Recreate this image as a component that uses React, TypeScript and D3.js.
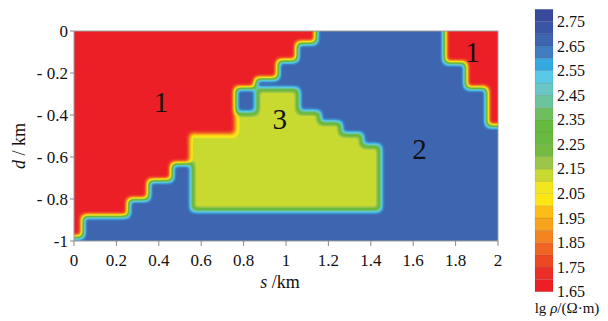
import React, { useMemo } from "react";
import * as d3 from "d3";

const width = 608;
const height = 321;

// model zones, s (km) / d (km)
const zone1Left: [number, number][] = [
  [0, 0], [1.14, 0], [1.14, -0.055], [1.05, -0.055], [1.05, -0.14], [0.96, -0.14],
  [0.96, -0.225], [0.855, -0.225], [0.855, -0.27], [0.76, -0.27], [0.76, -0.49],
  [0.55, -0.49], [0.55, -0.63], [0.46, -0.63], [0.46, -0.71], [0.35, -0.71],
  [0.35, -0.8], [0.255, -0.8], [0.255, -0.88], [0.04, -0.88], [0.04, -0.98], [0, -0.98],
];
const zone1Right: [number, number][] = [
  [1.75, 0], [2, 0], [2, -0.45], [1.95, -0.45], [1.95, -0.27], [1.85, -0.27],
  [1.85, -0.15], [1.75, -0.15],
];
const zone3: [number, number][] = [
  [0.555, -0.49], [0.76, -0.49], [0.76, -0.39], [0.86, -0.39], [0.86, -0.275],
  [1.06, -0.275], [1.06, -0.385], [1.16, -0.385], [1.16, -0.435], [1.26, -0.435],
  [1.26, -0.49], [1.36, -0.49], [1.36, -0.545], [1.445, -0.545], [1.445, -0.855], [0.555, -0.855],
];
const lgRho1 = 1.67;
const lgRho2 = 2.68;
const lgRho3 = 2.12;

const zoneLabels = [
  { text: "1", s: 0.41, d: -0.34 },
  { text: "3", s: 0.97, d: -0.42 },
  { text: "2", s: 1.63, d: -0.56 },
  { text: "1", s: 1.88, d: -0.1 },
];

const bandLow = [1.65, 1.7, 1.75, 1.8, 1.85, 1.9, 1.95, 2.0, 2.05, 2.1, 2.15, 2.2,
  2.25, 2.3, 2.35, 2.4, 2.45, 2.5, 2.55, 2.6, 2.65, 2.7, 2.75];
const bandTop = 2.8;
const bandColors = ["#ec1f26", "#eb2e26", "#ec4824", "#ef6422", "#f4841f", "#f8a31d",
  "#fcbd16", "#fde614", "#f2e61e", "#c8d930", "#9cc64a", "#72bb40", "#69ba3e", "#66ba40",
  "#6ebe5e", "#6cc49c", "#6ac5c5", "#5bc8e5", "#36a8e0", "#3f7cc0", "#3d65b0", "#3a55a5", "#394a9d"];
const cbTicks = [1.65, 1.75, 1.85, 1.95, 2.05, 2.15, 2.25, 2.35, 2.45, 2.55, 2.65, 2.75];

const xTicks = [0, 0.2, 0.4, 0.6, 0.8, 1, 1.2, 1.4, 1.6, 1.8, 2];
const yTicks = [0, -0.2, -0.4, -0.6, -0.8, -1];
const yTickLabels = ["0", "- 0.2", "- 0.4", "- 0.6", "- 0.8", "-1"];

const font = "Liberation Serif, Times New Roman, DejaVu Serif, serif";

export default function App() {
  const x = d3.scaleLinear().domain([0, 2]).range([74, 498]);
  const y = d3.scaleLinear().domain([-1, 0]).range([241, 31]);
  const cb = d3.scaleLinear().domain([1.65, bandTop]).range([291.7, 9.3]);
  const nx = 400, ny = 200, cell = 0.005;

  const bands = useMemo(() => {
    const vals = new Float64Array(nx * ny);
    for (let j = 0; j < ny; j++) {
      for (let i = 0; i < nx; i++) {
        const p: [number, number] = [(i + 0.5) * cell, -(j + 0.5) * cell];
        let v = lgRho2;
        if (d3.polygonContains(zone1Left, p) || d3.polygonContains(zone1Right, p)) v = lgRho1;
        else if (d3.polygonContains(zone3, p)) v = lgRho3;
        vals[j * nx + i] = v;
      }
    }
    d3.blur2({ data: vals, width: nx, height: ny }, 2);
    const cs = d3.contours().size([nx, ny]).thresholds(bandLow)(vals as any);
    const proj = d3.geoTransform({
      point(px: number, py: number) {
        (this as any).stream.point(x(px * cell), y(-py * cell));
      },
    });
    const path = d3.geoPath(proj);
    return cs.map((c, i) => ({ d: path(c as any) || "", fill: bandColors[i] }));
  }, []);

  return (
    <svg width={width} height={height} style={{ position: "absolute", left: 0, top: 0, background: "#fff", fontFamily: font }}>
      <defs>
        <clipPath id="plotClip">
          <rect x={74} y={31} width={424} height={210} />
        </clipPath>
      </defs>
      <g clipPath="url(#plotClip)">
        {bands.map((b, i) => <path key={i} d={b.d} fill={b.fill} />)}
      </g>
      <rect x={74} y={31} width={424} height={210} fill="none" stroke="#a0a0a0" strokeWidth={1} />

      {zoneLabels.map((l, i) => (
        <text key={i} x={x(l.s)} y={y(l.d)} fontSize={29} textAnchor="middle" dominantBaseline="central" fill="#111">{l.text}</text>
      ))}

      {xTicks.map((t) => (
        <g key={t}>
          <line x1={x(t)} x2={x(t)} y1={241} y2={246} stroke="#888" />
          <text x={x(t)} y={266} fontSize={17} textAnchor="middle" fill="#111">{String(t)}</text>
        </g>
      ))}
      {yTicks.map((t, i) => (
        <g key={t}>
          <line x1={70} x2={74} y1={y(t)} y2={y(t)} stroke="#888" />
          <text x={68} y={y(t)} fontSize={17} textAnchor="end" dominantBaseline="central" fill="#111">{yTickLabels[i]}</text>
        </g>
      ))}
      <text x={280} y={288} fontSize={18} textAnchor="middle" fill="#111">
        <tspan fontStyle="italic">s</tspan> /km
      </text>
      <text transform="translate(19,146) rotate(-90)" fontSize={18} textAnchor="middle" dominantBaseline="central" fill="#111">
        <tspan fontStyle="italic">d</tspan> / km
      </text>

      {bandLow.map((b, i) => (
        <rect key={b} x={535} width={18} y={cb(i + 1 < bandLow.length ? bandLow[i + 1] : bandTop)}
          height={cb(b) - cb(i + 1 < bandLow.length ? bandLow[i + 1] : bandTop)}
          fill={bandColors[i]} stroke="rgba(0,0,0,0.12)" strokeWidth={0.6} />
      ))}
      {cbTicks.map((t) => (
        <text key={t} x={557} y={cb(t)} fontSize={16} dominantBaseline="central" fill="#111">{t.toFixed(2)}</text>
      ))}
      <text x={567} y={313} fontSize={15} textAnchor="middle" fill="#111">
        lg <tspan fontStyle="italic">ρ</tspan>/(Ω·m)
      </text>
    </svg>
  );
}
